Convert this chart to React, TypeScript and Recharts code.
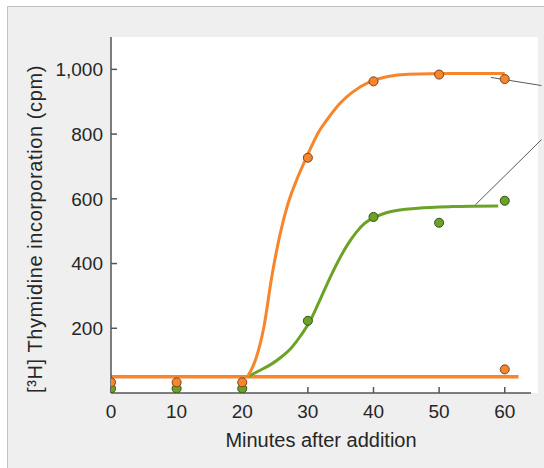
import { ComposedChart, Line, Scatter, XAxis, YAxis, ReferenceLine } from 'recharts';

// ── Data ─────────────────────────────────────────────────────

const xTicks = [0, 10, 20, 30, 40, 50, 60];
const yTicks = [200, 400, 600, 800, 1000];

// measured points (circles)
const orangeDots = [
  { x: 0, y: 33 },
  { x: 10, y: 33 },
  { x: 20, y: 33 },
  { x: 30, y: 727 },
  { x: 40, y: 963 },
  { x: 50, y: 984 },
  { x: 60, y: 970 },
  { x: 60, y: 73 },
];
const greenDots = [
  { x: 0, y: 14 },
  { x: 10, y: 14 },
  { x: 20, y: 14 },
  { x: 30, y: 223 },
  { x: 40, y: 544 },
  { x: 50, y: 526 },
  { x: 60, y: 594 },
];

// hand-drawn fitted curves
const orangeCurve = [
  { x: 20.8, y: 50 },
  { x: 22.0, y: 101 },
  { x: 23.3, y: 204 },
  { x: 24.5, y: 359 },
  { x: 25.8, y: 494 },
  { x: 27.0, y: 587 },
  { x: 28.3, y: 659 },
  { x: 29.7, y: 724 },
  { x: 31.6, y: 805 },
  { x: 33.2, y: 852 },
  { x: 34.8, y: 893 },
  { x: 36.7, y: 928 },
  { x: 39.5, y: 962 },
  { x: 42.2, y: 978 },
  { x: 45.3, y: 985 },
  { x: 52, y: 987 },
  { x: 60, y: 987 },
];
const greenCurve = [
  { x: 20.8, y: 50 },
  { x: 22.5, y: 68 },
  { x: 24.5, y: 90 },
  { x: 26.0, y: 112 },
  { x: 27.5, y: 140 },
  { x: 29.0, y: 180 },
  { x: 30.4, y: 225 },
  { x: 32.0, y: 295 },
  { x: 33.6, y: 366 },
  { x: 35.0, y: 422 },
  { x: 36.1, y: 460 },
  { x: 37.4, y: 497 },
  { x: 38.6, y: 523 },
  { x: 40.1, y: 542 },
  { x: 42.7, y: 561 },
  { x: 46.7, y: 571 },
  { x: 52, y: 576 },
  { x: 59, y: 578 },
];
const baseline = [
  { x: 0, y: 50 },
  { x: 62.1, y: 50 },
];

// leader lines running off to the right edge
const leaderTop = [
  { x: 57.9, y: 975 },
  { x: 65.6, y: 950 },
];
const leaderMid = [
  { x: 55.5, y: 581 },
  { x: 65.6, y: 783 },
];

const ORANGE = '#f7852b';
const GREEN = '#6ca326';
const INK = '#262626';
const AXIS = '#555';

function YTitle({ viewBox }: any) {
  const cx = viewBox.x + 35;
  const cy = viewBox.y + viewBox.height / 2 + 14;
  return (
    <text
      x={cx}
      y={cy}
      transform={`rotate(-90 ${cx} ${cy})`}
      textAnchor="middle"
      dominantBaseline="central"
      fontSize={20}
      letterSpacing={0.6}
      fill={INK}
    >
      [³H] Thymidine incorporation (cpm)
    </text>
  );
}

export default function App() {
  return (
    <div
      style={{
        position: 'absolute',
        left: 0,
        top: 0,
        width: 544,
        height: 468,
        overflow: 'hidden',
        background: '#fff',
        fontFamily: '"Liberation Sans", Arial, sans-serif',
      }}
    >
      <div
        style={{
          position: 'absolute',
          left: 7,
          top: 6,
          width: 560,
          height: 480,
          background: '#efefef',
          border: '1.5px solid #c2c2c2',
        }}
      />
      <div
        style={{
          position: 'absolute',
          left: 111,
          top: 37,
          width: 427,
          height: 356,
          background: '#fff',
        }}
      />
      <div style={{ position: 'absolute', left: 0, top: 0 }}>
        <ComposedChart width={544} height={468} margin={{ top: 37, right: 13, bottom: 0, left: 0 }}>
          <XAxis
            type="number"
            dataKey="x"
            domain={[0, 64]}
            allowDataOverflow
            ticks={xTicks}
            tickSize={-6}
            tickMargin={18}
            height={75}
            stroke={AXIS}
            strokeWidth={1.5}
            tick={{ fill: INK, fontSize: 19 }}
            label={{ value: 'Minutes after addition', position: 'insideBottom', offset: 21, fill: INK, fontSize: 20 }}
          />
          <YAxis
            type="number"
            dataKey="y"
            domain={[0, 1100]}
            allowDataOverflow
            ticks={yTicks}
            tickSize={-6}
            tickMargin={14}
            width={111}
            stroke={AXIS}
            strokeWidth={1.5}
            tick={{ fill: INK, fontSize: 19 }}
            tickFormatter={(v) => Number(v).toLocaleString('en-US')}
            label={{ content: (p: any) => <YTitle viewBox={p.viewBox} /> }}
          />
          <ReferenceLine segment={leaderTop} ifOverflow="visible" stroke="#5a5a5a" strokeWidth={1} />
          <ReferenceLine segment={leaderMid} ifOverflow="visible" stroke="#5a5a5a" strokeWidth={1} />
          <Line data={baseline} dataKey="y" type="linear" stroke={ORANGE} strokeWidth={3.5} dot={false} isAnimationActive={false} />
          <Line data={greenCurve} dataKey="y" type="monotone" stroke={GREEN} strokeWidth={3} dot={false} isAnimationActive={false} />
          <Line data={orangeCurve} dataKey="y" type="monotone" stroke={ORANGE} strokeWidth={3} dot={false} isAnimationActive={false} />
          <Scatter data={greenDots} fill={GREEN} stroke="#35501a" strokeWidth={1} isAnimationActive={false} />
          <Scatter data={orangeDots} fill={ORANGE} stroke="#7a4320" strokeWidth={1} isAnimationActive={false} />
        </ComposedChart>
      </div>
    </div>
  );
}
